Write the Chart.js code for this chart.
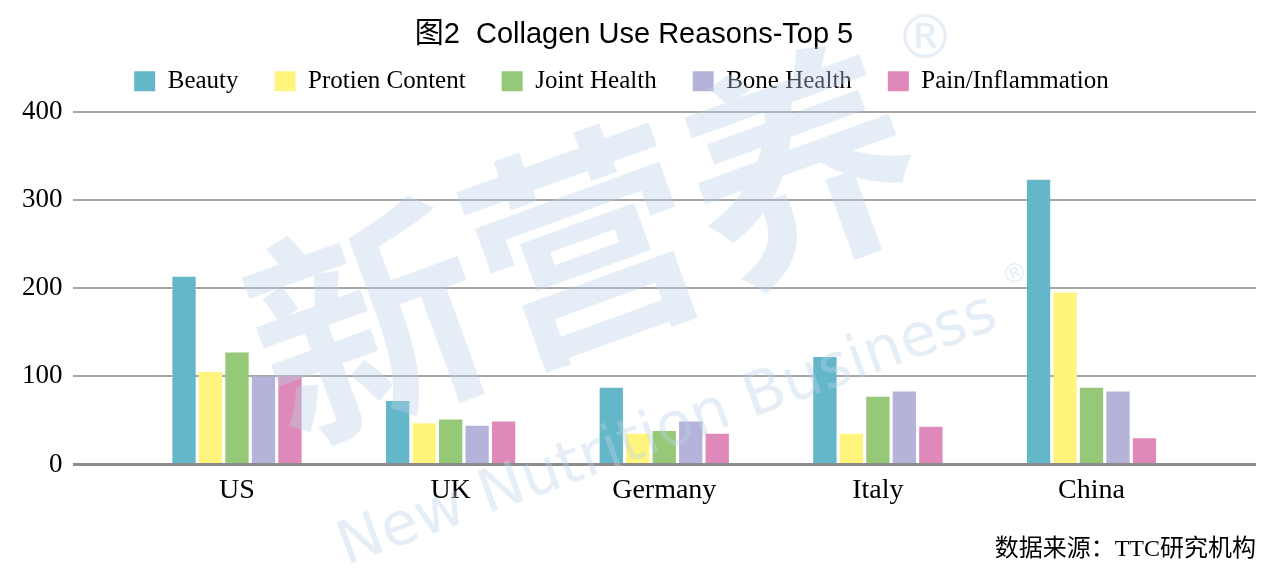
<!DOCTYPE html>
<html>
<head>
<meta charset="utf-8">
<script src="https://cdn.jsdelivr.net/npm/chart.js@4.4.1/dist/chart.umd.min.js"></script>
<style>
    html, body { margin: 0; padding: 0; background: #fff; }
    #wrap { width: 1280px; height: 576px; }
</style>
</head>
<body>
<div id="wrap"><canvas id="grafico-colageno"></canvas></div>
<script>
// Data
const categories = ['US', 'UK', 'Germany', 'Italy', 'China'];
const seriesNames = ['Beauty', 'Protien Content', 'Joint Health', 'Bone Health', 'Pain/Inflammation'];
const beauty = [213, 72, 87, 122, 323];
const protien = [105, 47, 35, 35, 195];
const joint = [127, 51, 38, 77, 87];
const bone = [100, 44, 49, 83, 83];
const pain = [100, 49, 35, 43, 30];
const yTicks = [0, 100, 200, 300, 400];

const colores = [
    '#64b6c9', // azul verdoso
    '#fff57d', // amarillo
    '#95c977', // verde
    '#b5b3da', // lila
    '#de89b9'  // rosa
];

function graficoColageno() {
    var ctx = document.getElementById('grafico-colageno');
    var serif = "'Liberation Serif', 'Noto Sans CJK SC', serif";

    const valores = [beauty, protien, joint, bone, pain];
    const data = {
        labels: categories,
        datasets: seriesNames.map(function(nombre, i) {
            return {
                label: nombre,
                data: valores[i],
                backgroundColor: colores[i],
                borderWidth: 0,
                categoryPercentage: 0.62,
                barPercentage: 0.88
            };
        })
    };

    // marca de agua
    const watermark = {
        id: 'watermark',
        afterDraw: function(chart) {
            const c = chart.ctx;
            c.save();
            c.fillStyle = 'rgba(186, 210, 232, 0.38)';
            c.textAlign = 'center';
            c.textBaseline = 'middle';
            c.font = "60px 'DejaVu Sans'";
            c.fillText('®', 925, 42);
            c.translate(620, 300);
            c.rotate(-20 * Math.PI / 180);
            c.font = "bold 230px 'Noto Sans CJK SC'";
            c.fillText('新营养', -15, -65);
            c.font = "60px 'DejaVu Sans'";
            c.fillText('New Nutrition Business', 0, 140);
            c.font = "26px 'DejaVu Sans'";
            c.fillText('®', 380, 112);
            c.restore();
        }
    };

    const config = {
        type: 'bar',
        data: data,
        options: {
            responsive: true,
            maintainAspectRatio: false,
            animation: false,
            layout: { padding: { left: 12, right: 24, top: 13, bottom: 12 } },
            plugins: {
                title: {
                    display: true,
                    text: '图2  Collagen Use Reasons-Top 5',
                    color: '#000',
                    font: { family: "'Liberation Sans', 'Noto Sans CJK SC', sans-serif", size: 29, weight: 'normal' },
                    padding: { top: 5, bottom: -20 }
                },
                subtitle: {
                    display: true,
                    position: 'bottom',
                    align: 'end',
                    text: '数据来源：TTC研究机构',
                    color: '#000',
                    font: { family: serif, size: 24 },
                    padding: { top: 19, bottom: 0 }
                },
                legend: {
                    position: 'top',
                    labels: {
                        color: '#000',
                        font: { family: serif, size: 25 },
                        boxWidth: 21,
                        boxHeight: 20,
                        padding: 36,
                        generateLabels: function(chart) {
                            const items = Chart.defaults.plugins.legend.labels.generateLabels(chart);
                            // espacio al final para correr la leyenda un poco a la izquierda
                            items[items.length - 1].text += '\u2003';
                            return items;
                        }
                    }
                },
                tooltip: { enabled: false }
            },
            scales: {
                x: {
                    grid: { display: false, drawTicks: false },
                    border: { display: false },
                    ticks: {
                        color: '#000',
                        font: { family: serif, size: 28 },
                        padding: 9
                    },
                    afterBuildTicks: function(scale) {
                        // deja margen a los lados del eje de categorias
                        scale._startValue -= 0.27;
                        scale._valueRange += 0.54;
                    }
                },
                y: {
                    min: 0,
                    max: 400,
                    afterBuildTicks: function(scale) {
                        scale.ticks = yTicks.map(function(v) { return { value: v }; });
                    },
                    border: { display: false },
                    grid: {
                        drawTicks: false,
                        color: function(c) { return c.tick.value === 0 ? '#8c8c8c' : '#a6a6a6'; },
                        lineWidth: function(c) { return c.tick.value === 0 ? 3 : 2; }
                    },
                    ticks: {
                        color: '#000',
                        font: { family: serif, size: 27 },
                        padding: 10
                    }
                },
                // eje vacio arriba, solo para dejar espacio bajo la leyenda
                xTop: {
                    position: 'top',
                    grid: { display: false, drawTicks: false },
                    border: { display: false },
                    ticks: { display: false },
                    afterFit: function(scale) { scale.height = 8; }
                }
            }
        },
        plugins: [watermark]
    };

    var myChart = new Chart(ctx, config);
}

graficoColageno();
</script>
</body>
</html>
